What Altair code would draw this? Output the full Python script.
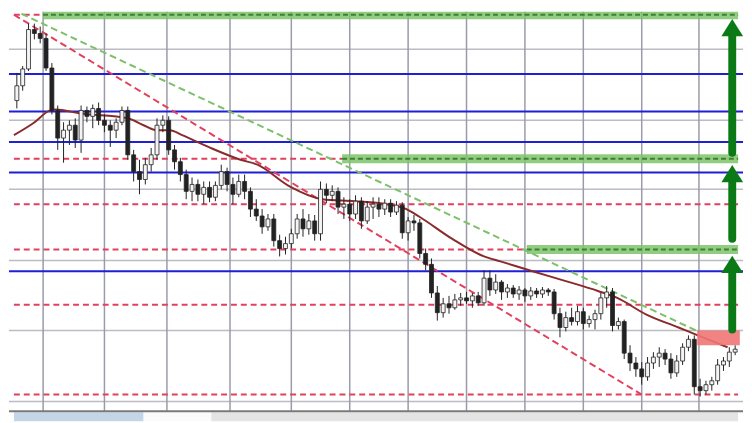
"""
Candlestick chart with support / resistance levels, trend lines and targets.
"""

import altair as alt
import pandas as pd

# candle values (price points), one candle per bar index
open_ = [910, 925, 942, 982, 978, 973, 943, 900, 872, 880,
         885, 870, 900, 894, 902, 890, 885, 880, 888, 900,
         855, 838, 830, 845, 855, 885, 890, 860, 848, 835,
         818, 825, 815, 822, 812, 824, 838, 825, 815, 828,
         818, 800, 793, 782, 790, 768, 760, 765, 775, 790,
         780, 788, 775, 820, 814, 818, 802, 805, 795, 808,
         788, 802, 805, 800, 806, 797, 804, 776, 788, 786,
         755, 744, 715, 695, 704, 700, 708, 710, 707, 712,
         705, 730, 718, 726, 716, 720, 714, 718, 712, 717,
         714, 718, 716, 694, 680, 690, 686, 696, 684, 688,
         694, 710, 716, 682, 686, 654, 644, 638, 630, 644,
         650, 654, 648, 634, 646, 660, 668, 620, 616, 622,
         626, 642, 646, 655]
close = [925, 942, 982, 978, 973, 943, 900, 872, 880, 885,
         870, 900, 894, 902, 890, 885, 880, 888, 900, 855,
         838, 830, 845, 855, 885, 890, 860, 848, 835, 818,
         825, 815, 822, 812, 824, 838, 825, 815, 828, 818,
         800, 793, 782, 790, 768, 760, 765, 775, 790, 780,
         788, 775, 820, 814, 818, 802, 805, 795, 808, 788,
         802, 805, 800, 806, 797, 804, 776, 788, 786, 755,
         744, 715, 695, 704, 700, 708, 710, 707, 712, 705,
         730, 718, 726, 716, 720, 714, 718, 712, 717, 714,
         718, 716, 694, 680, 690, 686, 696, 684, 688, 694,
         710, 716, 682, 686, 654, 644, 638, 630, 644, 650,
         654, 648, 634, 646, 660, 668, 620, 616, 622, 626,
         642, 646, 655, 658]
high = [938, 945, 988, 988, 985, 978, 948, 905, 888, 890,
        892, 905, 904, 906, 908, 896, 890, 892, 904, 904,
        860, 850, 852, 862, 892, 895, 894, 865, 852, 840,
        832, 830, 828, 828, 828, 845, 842, 832, 835, 835,
        822, 810, 800, 795, 795, 774, 772, 780, 795, 800,
        795, 794, 828, 826, 824, 822, 812, 810, 814, 812,
        808, 812, 812, 810, 810, 808, 807, 792, 794, 790,
        760, 750, 722, 710, 712, 714, 715, 716, 715, 716,
        738, 738, 734, 728, 724, 723, 722, 720, 721, 720,
        721, 720, 719, 700, 696, 700, 702, 700, 692, 698,
        715, 722, 720, 690, 688, 662, 650, 645, 650, 655,
        660, 658, 654, 652, 664, 672, 672, 628, 626, 630,
        648, 650, 660, 662]
low = [902, 920, 940, 972, 968, 940, 896, 860, 847, 865,
       862, 857, 888, 882, 885, 878, 863, 872, 885, 850,
       828, 815, 825, 838, 850, 878, 855, 840, 828, 810,
       808, 808, 805, 807, 808, 820, 818, 805, 812, 810,
       792, 788, 775, 778, 762, 752, 754, 760, 770, 772,
       774, 768, 768, 806, 808, 795, 790, 788, 790, 780,
       785, 790, 792, 794, 792, 794, 770, 768, 778, 750,
       738, 710, 687, 690, 694, 698, 702, 704, 700, 702,
       702, 712, 714, 708, 710, 710, 708, 706, 708, 710,
       710, 712, 688, 670, 676, 682, 682, 678, 680, 678,
       688, 700, 676, 678, 648, 636, 630, 622, 626, 638,
       640, 642, 628, 630, 642, 656, 612, 610, 612, 616,
       622, 636, 640, 652]

# moving average, read at a few bar positions
ma_bar = [-0.5, 2.8, 5.7, 6.7, 10.7, 19, 21.7, 24, 26.2, 28.3, 32.8, 38.3,
          41.2, 46.7, 52.3, 57.8, 63.3, 66.7, 69, 74.5, 80, 82.8, 88.3, 94,
          99.5, 102.8, 107.8, 113.3, 116.2, 121.7]
ma_value = [875, 887, 900, 901, 897, 892, 885, 880, 880, 875, 863, 850,
            845, 823, 810, 808, 805, 800, 792, 770, 752, 747, 737, 727,
            717, 710, 693, 680, 673, 660]

# chart grid
grid_prices = [962, 890, 820, 748, 677, 605]
grid_bars = [4.5, 15, 25.7, 36.5, 47, 57, 67, 77, 87, 97, 107, 116.8]

# levels
blue_levels = [937, 899, 868, 837, 737]
red_levels = [851, 805, 759, 703, 612, 997]
red_level_end = [55.7, 123.5, 87.3, 123.5, 123.5, 4.5]
target_levels = [997, 851, 759]
target_start = [4.5, 55.7, 87.3]

# trend lines: start bar, start price, end bar, end price
red_trend = [-0.5, 997, 107, 612]
green_trend = [0.8, 998, 117, 675]

# target arrows: bar, shaft bottom, shaft top, head centre
arrow_bar = [122.5, 122.5, 122.5]
arrow_from = [857, 770, 678]
arrow_to = [978, 830, 738]
arrow_head = [984, 836, 744]

# resistance zone
zone = [116.5, 123.8, 662, 677]

# tab strip under the chart: left edges of the three tabs
tab_edges = [-0.5, 21.7, 33.3, 123.5]
tab_colors = ["#c5d5e8", "#fbfbfb", "#e4e4e4"]

X_SCALE = alt.Scale(domain=[-0.5, 123.5], nice=False, zero=False)
Y_SCALE = alt.Scale(domain=[585, 1000], nice=False, zero=False)


def xq(field):
    return alt.X(field, type="quantitative", scale=X_SCALE, axis=None)


def yq(field):
    return alt.Y(field, type="quantitative", scale=Y_SCALE, axis=None)


def trend_line(points, color):
    df = pd.DataFrame({"b0": [points[0]], "p0": [points[1]],
                       "b1": [points[2]], "p1": [points[3]]})
    return alt.Chart(df).mark_rule(
        color=color, strokeWidth=2, strokeDash=[7, 4]).encode(
        x=xq("b0"), x2="b1", y=yq("p0"), y2="p1")


candles = pd.DataFrame({"bar": list(range(len(close))), "open": open_,
                        "close": close, "high": high, "low": low})

hgrid = alt.Chart(pd.DataFrame({"p": grid_prices})).mark_rule(
    color="#bcbcc4", strokeWidth=1.5).encode(y=yq("p"))
vgrid = alt.Chart(pd.DataFrame({"b": grid_bars, "lo": [595] * len(grid_bars),
                                "hi": [1000] * len(grid_bars)})).mark_rule(
    color="#9a9aa8", strokeWidth=1.5).encode(x=xq("b"), y=yq("lo"), y2="hi")

blue = alt.Chart(pd.DataFrame({"p": blue_levels})).mark_rule(
    color="#1f1fd6", strokeWidth=2).encode(y=yq("p"))

red = alt.Chart(pd.DataFrame({
    "p": red_levels, "b0": [-0.5] * len(red_levels), "b1": red_level_end,
})).mark_rule(color="#e2405f", strokeWidth=2, strokeDash=[6, 4]).encode(
    x=xq("b0"), x2="b1", y=yq("p"))

targets_df = pd.DataFrame({"p": target_levels, "b0": target_start,
                           "b1": [123.5] * len(target_levels)})
band = alt.Chart(targets_df).mark_rule(
    color="#7cc46a", strokeWidth=9, opacity=0.85, clip=True).encode(
    x=xq("b0"), x2="b1", y=yq("p"))
band_line = alt.Chart(targets_df).mark_rule(
    color="#3f7f34", strokeWidth=2, strokeDash=[5, 3], clip=True).encode(
    x=xq("b0"), x2="b1", y=yq("p"))

red_trend_line = trend_line(red_trend, "#e2405f")
green_trend_line = trend_line(green_trend, "#7dbf6a")

ma = alt.Chart(pd.DataFrame({"b": ma_bar, "v": ma_value})).mark_line(
    color="#8a2b2b", strokeWidth=2, interpolate="monotone").encode(
    x=xq("b"), y=yq("v"))

wick = alt.Chart(candles).mark_rule(color="#222222", strokeWidth=1).encode(
    x=xq("bar"), y=yq("low"), y2="high")
body = alt.Chart(candles).mark_bar(size=4, stroke="#222222",
                                   strokeWidth=0.8).encode(
    x=xq("bar"), y=yq("open"), y2="close",
    color=alt.condition("datum.close >= datum.open", alt.value("#f4f4f4"),
                        alt.value("#222222")))

zone_rect = alt.Chart(pd.DataFrame({
    "b0": [zone[0]], "b1": [zone[1]], "p0": [zone[2]], "p1": [zone[3]],
})).mark_rect(color="#f07676", opacity=0.9).encode(
    x=xq("b0"), x2="b1", y=yq("p0"), y2="p1")

arrows_df = pd.DataFrame({"b": arrow_bar, "p0": arrow_from, "p1": arrow_to,
                          "h": arrow_head})
shaft = alt.Chart(arrows_df).mark_rule(
    color="#0b7a16", strokeWidth=8, strokeCap="round").encode(
    x=xq("b"), y=yq("p0"), y2="p1")
head = alt.Chart(arrows_df).mark_point(
    shape="M -1 0.8 L 0 -0.8 L 1 0.8 Z", size=484, filled=True,
    color="#0b7a16", opacity=1).encode(x=xq("b"), y=yq("h"))

# tab strip under the chart
tabs = []
for i, tab_color in enumerate(tab_colors):
    tab_df = pd.DataFrame({"b0": [tab_edges[i]], "b1": [tab_edges[i + 1]],
                           "p0": [585], "p1": [594]})
    tabs.append(alt.Chart(tab_df).mark_rect(color=tab_color).encode(
        x=xq("b0"), x2="b1", y=yq("p0"), y2="p1"))
frame = alt.Chart(pd.DataFrame({"p": [595]})).mark_rule(
    color="#7a7a7a", strokeWidth=2).encode(y=yq("p"))

chart = alt.layer(
    hgrid, vgrid, blue, red, band, band_line, red_trend_line,
    green_trend_line, ma, wick, body, zone_rect, shaft, head, *tabs, frame,
).properties(width=744, height=415, padding=0).configure_view(stroke=None)

chart.save("out.html", embed_options={"renderer": "svg", "actions": False})
